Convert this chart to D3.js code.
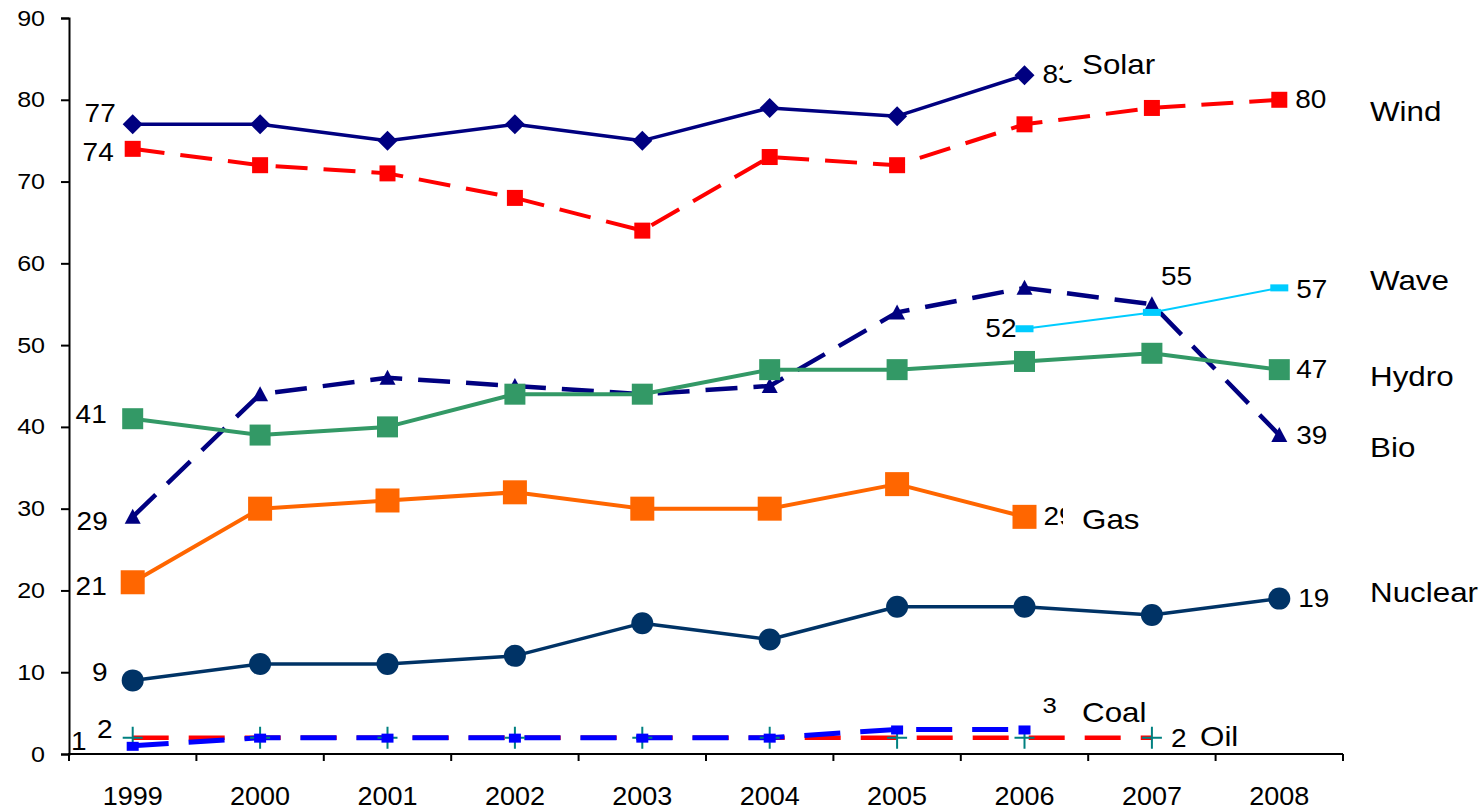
<!DOCTYPE html>
<html><head><meta charset="utf-8">
<script src="https://cdn.jsdelivr.net/npm/d3@7"></script>
<style>html,body{margin:0;padding:0;background:#fff;}svg{display:block;}</style>
</head><body>
<svg id="chart" width="1484" height="811"></svg>
<script>
// ---- data ----
const years = ["1999","2000","2001","2002","2003","2004","2005","2006","2007","2008"];
const yTicks = [0,10,20,30,40,50,60,70,80,90];
const solar   = [77,77,75,77,75,79,78,83,null,null];
const wind    = [74,72,71,68,64,73,72,77,79,80];
const bio     = [29,44,46,45,44,45,54,57,55,39];
const wave    = [null,null,null,null,null,null,null,52,54,57];
const hydro   = [41,39,40,44,44,47,47,48,49,47];
const gas     = [21,30,31,32,30,30,33,29,null,null];
const nuclear = [9,11,11,12,16,14,18,18,17,19];
const coal    = [1,2,2,2,2,2,3,3,null,null];
const oil     = [2,2,2,2,2,2,2,2,2,null];
const seriesNames = ["Solar","Wind","Bio","Wave","Hydro","Gas","Nuclear","Coal","Oil"];

// ---- layout / styles ----
const svg = d3.select("#chart");
const mLeft = 69, mRight = 1343, mTop = 18, mBottom = 754;
const x = d3.scaleBand().domain(years).range([mLeft, mRight]).padding(0);
const y = d3.scaleLinear().domain([0, 90]).range([mBottom, mTop]);
const cx = yr => x(yr) + x.bandwidth() / 2;
const FONT = "'Liberation Sans', Arial, sans-serif";

const styles = {
  Solar:   {data: solar,   color: "#000080", width: 3.5, dash: null,    marker: "diamond", size: 10},
  Wind:    {data: wind,    color: "#FF0000", width: 4,   dash: "32,16", marker: "square",  size: 16},
  Bio:     {data: bio,     color: "#000080", width: 4.5, dash: "32,16", marker: "triangle",size: 14},
  Wave:    {data: wave,    color: "#00CCFF", width: 2,   dash: null,    marker: "bar",     size: 18},
  Hydro:   {data: hydro,   color: "#339966", width: 4,   dash: null,    marker: "square",  size: 21},
  Gas:     {data: gas,     color: "#FF6600", width: 4,   dash: null,    marker: "square",  size: 24},
  Nuclear: {data: nuclear, color: "#003366", width: 3.5, dash: null,    marker: "circle",  size: 11},
  Coal:    {data: coal,    color: "#0000FF", width: 5,   dash: "36,20", marker: "rect",    size: 12},
  Oil:     {data: oil,     color: "#FF0000", width: 4.5, dash: "36,20", marker: "plus",    size: 10, markerColor: "#008080"}
};
const order = ["Oil","Coal","Nuclear","Gas","Bio","Hydro","Wave","Wind","Solar"];

// ---- axes ----
const yAxis = d3.axisLeft(y).tickValues(yTicks).tickSize(8).tickPadding(13);
const gy = svg.append("g").attr("transform", `translate(${mLeft},0)`).call(yAxis);
gy.select(".domain").attr("stroke", "#000").attr("stroke-width", 2);
gy.selectAll(".tick line").attr("stroke", "#000").attr("stroke-width", 2);
gy.selectAll(".tick text").attr("font-family", FONT).attr("font-size", 22).attr("fill", "#000")
  .attr("text-anchor", "end").attr("x", -21).attr("transform", "scale(1.14,1)");

const xAxis = d3.axisBottom(x).tickSize(0).tickPadding(0);
const gx = svg.append("g").attr("transform", `translate(0,${mBottom})`).call(xAxis);
gx.select(".domain").remove();
gx.selectAll(".tick text").attr("font-family", FONT).attr("font-size", 25).attr("fill", "#000")
  .attr("y", 51).attr("dy", 0).attr("transform", "scale(1.08,1)");
svg.append("line").attr("x1", mLeft - 1).attr("x2", mRight).attr("y1", mBottom).attr("y2", mBottom)
  .attr("stroke", "#000").attr("stroke-width", 2);
const edges = years.map(yr => x(yr)).concat([mRight]);
svg.append("g").selectAll("line").data(edges).join("line")
  .attr("x1", d => d).attr("x2", d => d).attr("y1", mBottom).attr("y2", mBottom + 7)
  .attr("stroke", "#000").attr("stroke-width", 2);

// ---- lines ----
const lineGen = d3.line().defined(d => d.v != null).x(d => cx(d.yr)).y(d => y(d.v));
order.forEach(name => {
  const s = styles[name];
  const pts = years.map((yr, i) => ({yr, v: s.data[i]}));
  svg.append("path").datum(pts).attr("d", lineGen)
    .attr("fill", "none").attr("stroke", s.color).attr("stroke-width", s.width)
    .attr("stroke-dasharray", s.dash).attr("stroke-linejoin", "round");
});

// ---- markers ----
order.forEach(name => {
  const s = styles[name];
  const pts = years.map((yr, i) => ({yr, v: s.data[i]})).filter(d => d.v != null);
  const g = svg.append("g");
  const mc = s.markerColor || s.color;
  pts.forEach(d => {
    const px = cx(d.yr), py = y(d.v), r = s.size;
    if (s.marker === "diamond") {
      g.append("path").attr("d", `M${px},${py-r}L${px+r},${py}L${px},${py+r}L${px-r},${py}Z`).attr("fill", mc);
    } else if (s.marker === "square") {
      g.append("rect").attr("x", px - r/2).attr("y", py - r/2).attr("width", r).attr("height", r).attr("fill", mc);
    } else if (s.marker === "triangle") {
      g.append("path").attr("d", `M${px},${py-r/2-1}L${px+r/2+1},${py+r/2}L${px-r/2-1},${py+r/2}Z`).attr("fill", mc);
    } else if (s.marker === "bar") {
      g.append("rect").attr("x", px - r/2).attr("y", py - 3.5).attr("width", r).attr("height", 7).attr("fill", mc);
    } else if (s.marker === "circle") {
      g.append("circle").attr("cx", px).attr("cy", py).attr("r", r).attr("fill", mc);
    } else if (s.marker === "rect") {
      g.append("rect").attr("x", px - r/2).attr("y", py - 4).attr("width", r).attr("height", 9).attr("fill", mc);
    } else if (s.marker === "plus") {
      g.append("path").attr("d", `M${px-r},${py}H${px+r}M${px},${py-r-1}V${py+r+1}`)
        .attr("stroke", mc).attr("stroke-width", 2).attr("fill", "none");
    }
  });
});

// ---- value labels (series, year index, anchor, dx, dy, size) ----
const valueLabels = [
  ["Solar",0,"end",-17,-2,25], ["Wind",0,"end",-19,12,25], ["Hydro",0,"end",-26,4,25],
  ["Bio",0,"end",-25,13,25], ["Gas",0,"end",-26,13,25], ["Nuclear",0,"end",-25,1,25],
  ["Coal",0,"end",-46,4,25], ["Oil",0,"end",-20,0,25],
  ["Solar",7,"start",18,8,25], ["Wind",9,"start",16,8,25], ["Wave",9,"start",17,10,25],
  ["Hydro",9,"start",17,8,25], ["Bio",9,"start",17,9,25], ["Nuclear",9,"start",19,8,25],
  ["Gas",7,"start",19,8,25], ["Wave",7,"end",-8,8,25], ["Bio",8,"start",9,-19,25],
  ["Coal",7,"start",18,-16,23], ["Oil",8,"start",19,9,25]
];
valueLabels.forEach(([name, i, anchor, dx, dy, fs]) => {
  const v = styles[name].data[i];
  const px = cx(years[i]) + dx, py = y(v) + dy;
  svg.append("text").attr("transform", `translate(${px},${py}) scale(1.12,1)`)
    .attr("text-anchor", anchor).attr("font-family", FONT).attr("font-size", fs).attr("fill", "#000")
    .text(v);
});

// ---- series name labels (with white boxes): [x, baseline, box padding] ----
const nameLabels = {
  Solar: [1082, 74, 19], Wind: [1370, 121, 10], Wave: [1370, 290, 10], Hydro: [1370, 386, 10],
  Bio: [1370, 457, 10], Gas: [1082, 529, 19], Nuclear: [1370, 602, 10], Coal: [1082, 722, 10],
  Oil: [1200, 746, 12]
};
seriesNames.forEach(name => {
  const [lx, ly, pad] = nameLabels[name];
  const g = svg.append("g");
  const t = g.append("text").attr("transform", `translate(${lx},${ly}) scale(1.12,1)`)
    .attr("font-family", FONT).attr("font-size", 28).attr("fill", "#000").text(name);
  const w = t.node().getComputedTextLength() * 1.12;
  g.insert("rect", "text").attr("x", lx - pad).attr("y", ly - 26).attr("width", w + pad + 4).attr("height", 32)
    .attr("fill", "#fff");
});
</script>
</body></html>
